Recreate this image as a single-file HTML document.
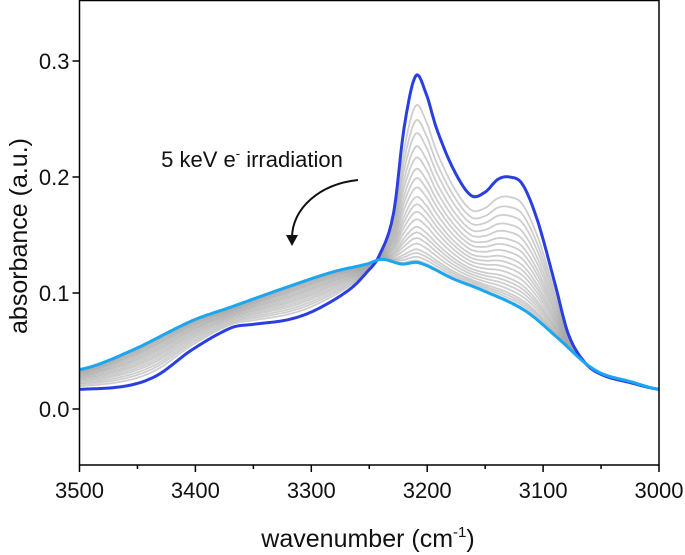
<!DOCTYPE html>
<html><head><meta charset="utf-8"><style>
body{margin:0;background:#fff;}
svg{display:block;font-family:"Liberation Sans",sans-serif;}
</style></head><body>
<svg id="chart" width="685" height="555" xmlns="http://www.w3.org/2000/svg">
<g id="series"></g>
<rect x="79.5" y="0.5" width="579.5" height="464.5" fill="none" stroke="#000" stroke-width="1.5"/>
<g id="axes"></g>
<text x="252" y="167" font-size="22" text-anchor="middle" fill="#111">5 keV e<tspan dy="-9" font-size="13">-</tspan><tspan dy="9"> irradiation</tspan></text>
<path d="M358,180 C320,184 292,208 292,238" fill="none" stroke="#111" stroke-width="2"/>
<path d="M286,235 L292,246 L298,235 Z" fill="#111"/>
<text transform="translate(27,236) rotate(-90)" font-size="25" text-anchor="middle" fill="#111">absorbance (a.u.)</text>
<text x="368" y="547" font-size="25" text-anchor="middle" fill="#111">wavenumber (cm<tspan dy="-10" font-size="15">-1</tspan><tspan dy="10">)</tspan></text>
</svg>
<script>
const initialWn = [3500,3459,3433,3403,3369,3350,3320,3297,3267,3252,3241,3229,3220,3210,3201,3192,3177,3162,3150,3139,3129,3118,3105,3090,3078,3063,3048,3026,3000];
const initialAbs = [0.017,0.020,0.029,0.051,0.070,0.073,0.077,0.085,0.103,0.118,0.133,0.169,0.242,0.287,0.272,0.242,0.206,0.184,0.187,0.198,0.200,0.194,0.163,0.109,0.064,0.039,0.029,0.023,0.017];
const finalWn = [3500,3456,3403,3369,3327,3282,3252,3239,3222,3207,3177,3154,3116,3086,3063,3048,3026,3000];
const finalAbs = [0.034,0.050,0.076,0.088,0.103,0.118,0.125,0.129,0.125,0.126,0.112,0.103,0.085,0.060,0.039,0.030,0.024,0.017];
const doseFractions = [0.84,0.76,0.69,0.62,0.56,0.50,0.45,0.40,0.35,0.31,0.27,0.23,0.19,0.16,0.13,0.10,0.07,0.05,0.03,0.01];
const xTicks = [3500,3400,3300,3200,3100,3000];
const xMinor = [3450,3350,3250,3150,3050];
const yTicks = [0.0,0.1,0.2,0.3];
const yTickLabels = ["0.0","0.1","0.2","0.3"];

const NS="http://www.w3.org/2000/svg";
const X0=79.5,X1=659,Y1=465;
const xS=w=>X0+(3500-w)/500*(X1-X0);
const yS=a=>409-a*1160;
function interp(wn,ab,w){
  const n=wn.length;
  for(let i=0;i<n-1;i++){
    if(w<=wn[i]&&w>=wn[i+1]){
      const t=(wn[i]-w)/(wn[i]-wn[i+1]);
      const p0=ab[Math.max(i-1,0)],p1=ab[i],p2=ab[i+1],p3=ab[Math.min(i+2,n-1)];
      const h=wn[i]-wn[i+1];
      const h0=i>0?wn[i-1]-wn[i]:h, h2=i+2<n?wn[i+1]-wn[i+2]:h;
      const m1=(p2-p0)/(h0+h)*h, m2=(p3-p1)/(h+h2)*h;
      const t2=t*t,t3=t2*t;
      return (2*t3-3*t2+1)*p1+(t3-2*t2+t)*m1+(-2*t3+3*t2)*p2+(t3-t2)*m2;
    }
  }
  return ab[n-1];
}
const grid=[];for(let w=3500;w>=3000;w-=1)grid.push(w);
const series=document.getElementById('series');
function addPath(pts,stroke,width,op){const p=document.createElementNS(NS,'path');p.setAttribute('d',pts.map((q,i)=>(i?'L':'M')+q[0].toFixed(1)+','+q[1].toFixed(1)).join(''));p.setAttribute('fill','none');p.setAttribute('stroke',stroke);p.setAttribute('stroke-width',width);p.setAttribute('stroke-opacity',op);p.setAttribute('stroke-linejoin','round');series.appendChild(p);return p;}
doseFractions.forEach((f,k)=>{
  const pts=grid.map(w=>{const a=f*interp(initialWn,initialAbs,w)+(1-f)*interp(finalWn,finalAbs,w);return [xS(w),yS(a)];});
  const p=addPath(pts,'#a6a6a6',1.8,0.55);
  
  
});
let p=addPath(grid.map(w=>[xS(w),yS(interp(initialWn,initialAbs,w))]),'#2a3fe0',3,1);


p=addPath(grid.map(w=>[xS(w),yS(interp(finalWn,finalAbs,w))]),'#1aa6f0',3,1);



const axes=document.getElementById('axes');
function line(x1,y1,x2,y2){const l=document.createElementNS(NS,'line');l.setAttribute('x1',x1);l.setAttribute('y1',y1);l.setAttribute('x2',x2);l.setAttribute('y2',y2);l.setAttribute('stroke','#000');l.setAttribute('stroke-width',1.5);axes.appendChild(l);return l;}
function text(x,y,s,anchor){const t=document.createElementNS(NS,'text');t.setAttribute('x',x);t.setAttribute('y',y);t.setAttribute('font-size','22');t.setAttribute('text-anchor',anchor);t.setAttribute('fill','#111');t.textContent=s;axes.appendChild(t);return t;}
xTicks.forEach(w=>{
  const l=line(xS(w),Y1,xS(w),Y1+7);
  
  
  const t=text(xS(w),Y1+33,String(w),'middle');
  
  
});
xMinor.forEach(w=>{
  const l=line(xS(w),Y1,xS(w),Y1+4);
  
  
});
yTicks.forEach((v,i)=>{
  const l=line(X0-7,yS(v),X0,yS(v));
  
  
  const t=text(X0-10,yS(v)+8,yTickLabels[i],'end');
  
  
});
</script>
</body></html>
